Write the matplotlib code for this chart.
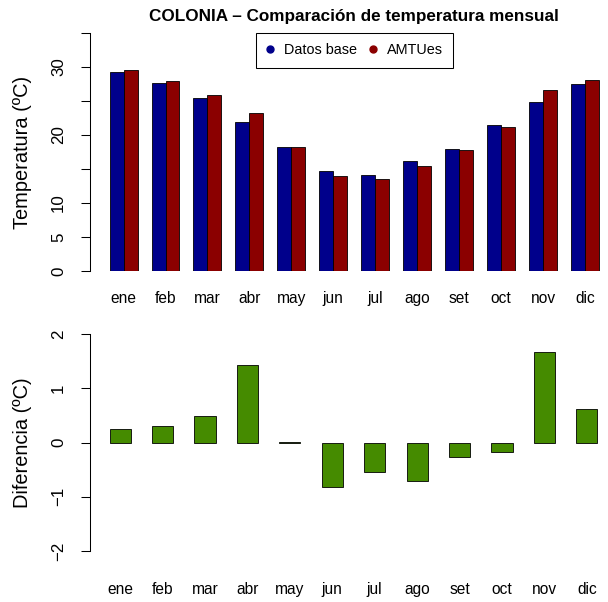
import matplotlib
matplotlib.use('Agg')
from matplotlib import pyplot as plt
from matplotlib.lines import Line2D
import numpy as np

# datos
meses=['ene','feb','mar','abr','may','jun','jul','ago','set','oct','nov','dic']
datos_base=[29.3,27.7,25.4,21.9,18.2,14.75,14.07,16.2,18.0,21.4,24.9,27.5]
amtues=[29.55,28.0,25.9,23.3,18.2,13.95,13.55,15.5,17.75,21.25,26.6,28.15]
diferencia=[0.26,0.30,0.49,1.43,0.02,-0.82,-0.535,-0.71,-0.26,-0.17,1.68,0.63]

col_base='#00008B'
col_amt='#8B0000'
col_dif='#458B00'

plt.rcParams['font.family']=['Liberation Sans','DejaVu Sans']

W,H=608,602
fig=plt.figure(figsize=(W/100,H/100),dpi=100)

def caja(l,t,r,b):
    # caja en pixeles -> fraccion de figura
    return [l/W,1-b/H,(r-l)/W,(b-t)/H]

def estilo(ax,ymin,ymax,xpad):
    for s in ['top','right','bottom']:
        ax.spines[s].set_visible(False)
    ax.spines['left'].set_bounds(ymin,ymax)
    ax.spines['left'].set_linewidth(0.75)
    ax.tick_params(axis='y',length=6.8,width=0.75,pad=10.4,labelsize=12.2,labelrotation=90)
    ax.tick_params(axis='x',length=0,pad=xpad,labelsize=11.2)
    for lb in ax.get_yticklabels():
        lb.set_va('center')

# panel superior
x=np.arange(12)
ax1=fig.add_axes(caja(90,33,618.6,271))
ax1.bar(1.5+3*x,datos_base,width=1,color=col_base,edgecolor='black',linewidth=0.6)
ax1.bar(2.5+3*x,amtues,width=1,color=col_amt,edgecolor='black',linewidth=0.6)
ax1.set_xlim(-0.4,37.4)
ax1.set_ylim(0,35)
ax1.set_yticks(range(0,36,5),['0','5','10','','20','','30',''])
ax1.set_xticks(2+3*x,meses)
estilo(ax1,0,35,14.2)

hs=[Line2D([],[],marker='o',ls='',color=col_base,markersize=5),
    Line2D([],[],marker='o',ls='',color=col_amt,markersize=5)]
leg=ax1.legend(hs,['Datos base','AMTUes'],loc='upper center',bbox_to_anchor=(0.5,1),ncol=2,
               fontsize=10.4,frameon=True,fancybox=False,edgecolor='black',framealpha=1,
               borderaxespad=0,handlelength=0.6,handletextpad=0.65,columnspacing=0.8,borderpad=0.72)
leg.get_frame().set_linewidth(0.75)

# panel inferior
ax2=fig.add_axes(caja(90,334.3,617,551))
ax2.bar(1.5+2*x,diferencia,width=1,color=col_dif,edgecolor='black',linewidth=0.6)
ax2.set_xlim(0.08,24.92)
ax2.set_ylim(-2,2)
ax2.set_yticks([-2,-1,0,1,2])
ax2.set_xticks(1.5+2*x,meses)
estilo(ax2,-2,2,22.1)

fig.text(354/W,1-17/H,'COLONIA \u2013 Comparación de temperatura mensual',ha='center',va='center',
         fontsize=12.3,fontweight='bold')
fig.text(22.5/W,1-152/H,'Temperatura (ºC)',rotation=90,ha='center',va='center',fontsize=14.4)
fig.text(22.5/W,1-443/H,'Diferencia (ºC)',rotation=90,ha='center',va='center',fontsize=14.4)

fig.savefig('out.png',dpi=100)
